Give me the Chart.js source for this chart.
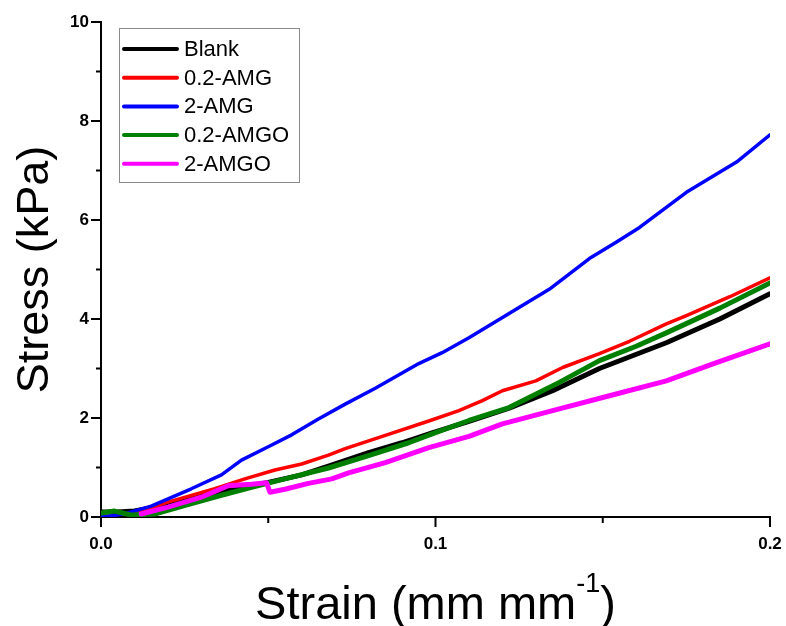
<!DOCTYPE html>
<html>
<head>
<meta charset="utf-8">
<script src="https://cdn.jsdelivr.net/npm/chart.js@4/dist/chart.umd.min.js"></script>
<style>
  body { margin: 0; background: #fff; }
  canvas { display: block; }
</style>
</head>
<body>
<canvas id="stress-strain" width="786" height="626"></canvas>
<script>
// stress-strain curves, strain in mm/mm, stress in kPa
const labels = ["Blank", "0.2-AMG", "2-AMG", "0.2-AMGO", "2-AMGO"];
const colors = ["#000000", "#ff0000", "#0000ff", "#008000", "#ff00ff"];
const widths = [5, 3.5, 3.5, 5, 5];

const strainBlank = [0, 0.005, 0.01, 0.02, 0.03, 0.04, 0.05, 0.06, 0.068, 0.08, 0.09, 0.099, 0.11, 0.122, 0.135, 0.149, 0.169, 0.185, 0.2];
const stressBlank = [0.1, 0.1, 0.12, 0.25, 0.42, 0.57, 0.7, 0.85, 1.03, 1.3, 1.5, 1.7, 1.93, 2.2, 2.55, 3.0, 3.52, 4.0, 4.51];

const strainAMG02 = [0.008, 0.012, 0.02, 0.034, 0.043, 0.052, 0.06, 0.068, 0.073, 0.085, 0.098, 0.107, 0.114, 0.12, 0.13, 0.138, 0.149, 0.158, 0.169, 0.175, 0.188, 0.2];
const stressAMG02 = [0.05, 0.12, 0.3, 0.57, 0.77, 0.95, 1.07, 1.25, 1.38, 1.65, 1.94, 2.15, 2.35, 2.55, 2.75, 3.02, 3.3, 3.55, 3.9, 4.07, 4.45, 4.83];

const strainAMG2 = [0, 0.004, 0.008, 0.015, 0.027, 0.036, 0.042, 0.05, 0.057, 0.065, 0.073, 0.082, 0.095, 0.102, 0.11, 0.122, 0.134, 0.146, 0.154, 0.161, 0.175, 0.19, 0.2];
const stressAMG2 = [0, 0.03, 0.08, 0.22, 0.57, 0.85, 1.15, 1.42, 1.66, 1.98, 2.28, 2.6, 3.1, 3.32, 3.62, 4.11, 4.6, 5.22, 5.55, 5.85, 6.56, 7.17, 7.72];

const strainAMGO02 = [0, 0.004, 0.009, 0.016, 0.026, 0.036, 0.045, 0.055, 0.068, 0.08, 0.092, 0.099, 0.11, 0.122, 0.137, 0.149, 0.16, 0.169, 0.185, 0.2];
const stressAMGO02 = [0.08, 0.12, 0.04, 0.06, 0.25, 0.44, 0.6, 0.77, 0.99, 1.24, 1.5, 1.68, 1.95, 2.21, 2.72, 3.16, 3.45, 3.72, 4.22, 4.73];

const strainAMGO2 = [0.012, 0.02, 0.03, 0.038, 0.045, 0.0495, 0.0505, 0.055, 0.062, 0.069, 0.074, 0.085, 0.098, 0.11, 0.12, 0.135, 0.152, 0.169, 0.184, 0.2];
const stressAMGO2 = [0.06, 0.2, 0.4, 0.63, 0.66, 0.69, 0.5, 0.56, 0.68, 0.77, 0.89, 1.1, 1.4, 1.63, 1.88, 2.15, 2.45, 2.75, 3.12, 3.5];

const xTicks = [0, 0.05, 0.1, 0.15, 0.2];
const yTicks = [0, 1, 2, 3, 4, 5, 6, 7, 8, 9, 10];

const series = [
  [strainBlank, stressBlank],
  [strainAMG02, stressAMG02],
  [strainAMG2, stressAMG2],
  [strainAMGO02, stressAMGO02],
  [strainAMGO2, stressAMGO2],
];

function toPoints(xs, ys) {
  return xs.map((x, i) => ({ x: x, y: ys[i] }));
}

const FONT = "'Liberation Sans', Arial, sans-serif";

// outward tick marks, long on labelled values, short in between
const tickMarks = {
  id: "tickMarks",
  afterDraw(chart) {
    const ctx = chart.ctx;
    const xs = chart.scales.x;
    const ys = chart.scales.y;
    const area = chart.chartArea;
    ctx.save();
    ctx.strokeStyle = "#000";
    ctx.lineWidth = 2;
    xTicks.forEach((v, i) => {
      const px = xs.getPixelForValue(v);
      const len = i % 2 === 0 ? 10 : 6;
      ctx.beginPath();
      ctx.moveTo(px, area.bottom);
      ctx.lineTo(px, area.bottom + len);
      ctx.stroke();
    });
    yTicks.forEach((v) => {
      const py = ys.getPixelForValue(v);
      const len = v % 2 === 0 ? 10 : 5;
      ctx.beginPath();
      ctx.moveTo(area.left, py);
      ctx.lineTo(area.left - len, py);
      ctx.stroke();
    });
    ctx.restore();
  },
};

// axis titles (x title has a superscript)
const axisTitles = {
  id: "axisTitles",
  afterDraw(chart) {
    const ctx = chart.ctx;
    const area = chart.chartArea;
    ctx.save();
    ctx.fillStyle = "#000";
    ctx.textBaseline = "alphabetic";

    const big = "47px " + FONT;
    const small = "27px " + FONT;
    const a = "Strain (mm mm";
    const sup = "-1";
    const b = ")";
    ctx.font = big;
    const wa = ctx.measureText(a).width;
    const wb = ctx.measureText(b).width;
    ctx.font = small;
    const ws = ctx.measureText(sup).width;
    const total = wa + ws + wb;
    let x = (area.left + area.right) / 2 - total / 2;
    const base = 619;
    ctx.textAlign = "left";
    ctx.font = big;
    ctx.fillText(a, x, base);
    ctx.font = small;
    ctx.fillText(sup, x + wa, base - 27);
    ctx.font = big;
    ctx.fillText(b, x + wa + ws, base);

    ctx.translate(48, (area.top + area.bottom) / 2);
    ctx.rotate(-Math.PI / 2);
    ctx.textAlign = "center";
    ctx.font = "45px " + FONT;
    ctx.fillText("Stress (kPa)", 0, 0);
    ctx.restore();
  },
};

// boxed legend in the upper left of the plot
const boxLegend = {
  id: "boxLegend",
  afterDraw(chart) {
    const ctx = chart.ctx;
    const left = 119, top = 28, w = 180, h = 154;
    ctx.save();
    ctx.fillStyle = "#fff";
    ctx.fillRect(left, top, w, h);
    ctx.strokeStyle = "#8a8a8a";
    ctx.lineWidth = 1;
    ctx.strokeRect(left + 0.5, top + 0.5, w, h);
    ctx.font = "22px " + FONT;
    ctx.textBaseline = "middle";
    ctx.textAlign = "left";
    labels.forEach((label, i) => {
      const y = top + 21 + i * 28.7;
      ctx.strokeStyle = colors[i];
      ctx.lineWidth = 4;
      ctx.lineCap = "round";
      ctx.beginPath();
      ctx.moveTo(124, y);
      ctx.lineTo(177, y);
      ctx.stroke();
      ctx.fillStyle = "#000";
      ctx.fillText(label, 184, y + 1);
    });
    ctx.restore();
  },
};

new Chart(document.getElementById("stress-strain"), {
  type: "line",
  data: {
    datasets: series.map((s, i) => ({
      label: labels[i],
      data: toPoints(s[0], s[1]),
      borderColor: colors[i],
      backgroundColor: colors[i],
      borderWidth: widths[i],
      borderJoinStyle: "round",
      borderCapStyle: "round",
      pointRadius: 0,
      tension: 0,
      fill: false,
      order: labels.length - i,
    })),
  },
  options: {
    responsive: false,
    animation: false,
    layout: { padding: { top: 22, right: 16, left: 0, bottom: 0 } },
    plugins: {
      legend: { display: false },
      tooltip: { enabled: false },
    },
    scales: {
      x: {
        type: "linear",
        min: 0,
        max: 0.2,
        grid: { display: false, drawTicks: false },
        border: { display: true, color: "#000", width: 2 },
        ticks: {
          stepSize: 0.05,
          padding: 17,
          maxRotation: 0,
          color: "#000",
          font: { family: FONT, size: 17, weight: "bold" },
          callback: (v) => {
            const t = v * 10;
            return Math.abs(t - Math.round(t)) < 1e-6 ? v.toFixed(1) : "";
          },
        },
        afterFit: (s) => {
          s.height = 109;
          s.paddingLeft = 0;
          s.paddingRight = 0;
        },
      },
      y: {
        type: "linear",
        min: 0,
        max: 10,
        grid: { display: false, drawTicks: false },
        border: { display: true, color: "#000", width: 2 },
        ticks: {
          stepSize: 1,
          padding: 12,
          color: "#000",
          font: { family: FONT, size: 17, weight: "bold" },
          callback: (v) => (v % 2 === 0 ? v : ""),
        },
        afterFit: (s) => {
          s.width = 101;
          s.paddingTop = 0;
          s.paddingBottom = 0;
        },
      },
    },
  },
  plugins: [tickMarks, axisTitles, boxLegend],
});
</script>
</body>
</html>
